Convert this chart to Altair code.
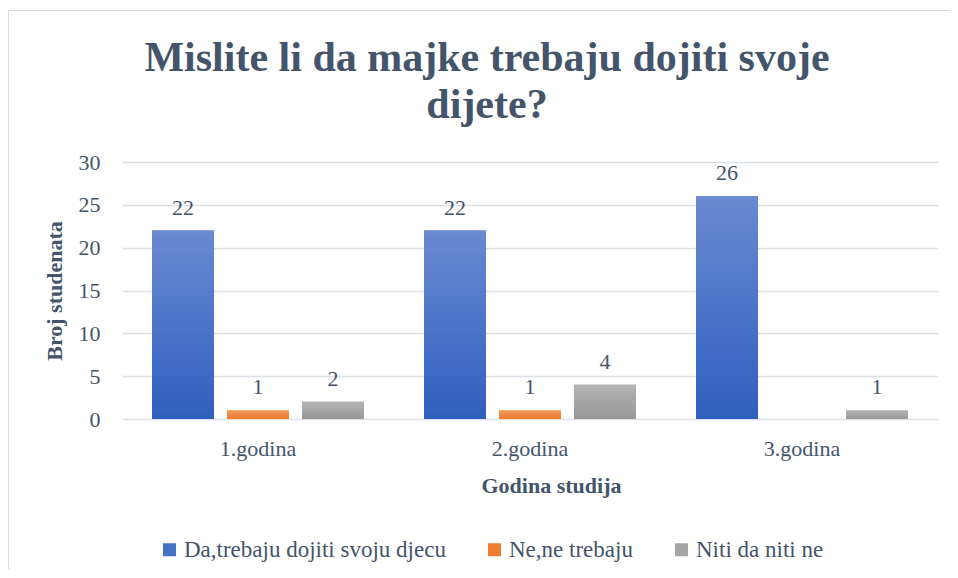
import altair as alt
import pandas as pd

years = ["1.godina", "2.godina", "3.godina"]
series = ["Da,trebaju dojiti svoju djecu", "Ne,ne trebaju", "Niti da niti ne"]
da_vals = [22, 22, 26]
ne_vals = [1, 1, 0]
niti_vals = [2, 4, 1]
y_ticks = [0, 5, 10, 15, 20, 25, 30]
title_lines = ["Mislite li da majke trebaju dojiti svoje", "dijete?"]
x_title = "Godina studija"
y_title = "Broj studenata"

legend_colors = ["#4472C4", "#ED7D31", "#A5A5A5"]
grad_top = ["#6A8AD2", "#F4985A", "#B4B4B4"]
grad_bottom = ["#2F5FBE", "#ED7A2C", "#979797"]

TXT = "#44546A"
FONT = "Liberation Serif"
GRID = "#DDE1E7"

rows = []
for i, yr in enumerate(years):
    for s, vals in zip(series, [da_vals, ne_vals, niti_vals]):
        rows.append({"godina": yr, "odgovor": s, "broj": vals[i]})
df = pd.DataFrame(rows)

x_enc = alt.X(
    "godina:N",
    sort=years,
    scale=alt.Scale(domain=years, paddingInner=0, paddingOuter=0),
    axis=alt.Axis(
        title=x_title, labelAngle=0, ticks=False, tickSize=0, domain=False,
        labelFont=FONT, labelFontSize=22, labelColor=TXT,
        labelBaseline="alphabetic", labelPadding=36,
        titleFont=FONT, titleFontSize=22, titleFontWeight="bold", titleColor=TXT,
        titleX=429, titleY=73, titleBaseline="alphabetic", titleAlign="center",
    ),
)
xo_enc = alt.XOffset(
    "odgovor:N",
    scale=alt.Scale(domain=series, paddingInner=0.173, paddingOuter=0.4),
)
y_enc = alt.Y(
    "broj:Q",
    scale=alt.Scale(domain=[0, 30], nice=False),
    axis=alt.Axis(
        title=y_title, values=y_ticks, ticks=False, tickSize=0, domain=False,
        grid=True, gridColor=GRID, gridWidth=1.5,
        labelFont=FONT, labelFontSize=22, labelColor=TXT, labelPadding=22,
        titleFont=FONT, titleFontSize=22, titleFontWeight="bold", titleColor=TXT,
        titleAngle=-90, titleX=-61, titleY=128.5, titleBaseline="alphabetic",
        titleAlign="center",
    ),
)

base = alt.Chart(df).encode(x=x_enc, xOffset=xo_enc, y=y_enc)

bars = base.mark_bar().encode(
    color=alt.Color(
        "odgovor:N",
        scale=alt.Scale(domain=series, range=legend_colors),
        legend=alt.Legend(
            title=None, orient="none", direction="horizontal",
            legendX=36, legendY=376, padding=0,
            symbolType="square", symbolSize=169, symbolStrokeWidth=0,
            labelFont=FONT, labelFontSize=23, labelColor=TXT,
            labelOffset=3, columnPadding=37, labelLimit=400,
        ),
    )
)

grad_layers = []
for s, t, b in zip(series, grad_top, grad_bottom):
    g = alt.LinearGradient(
        gradient="linear",
        stops=[alt.GradientStop(offset=0, color=t), alt.GradientStop(offset=1, color=b)],
        x1=0, x2=0, y1=0, y2=1,
    )
    grad_layers.append(
        base.transform_filter(alt.datum.odgovor == s).mark_bar(fill=g)
    )

labels = base.transform_filter(alt.datum.broj > 0).mark_text(
    font=FONT, fontSize=22, color=TXT, baseline="alphabetic", dy=-16
).encode(text="broj:Q")

frame = alt.Chart(pd.DataFrame({"f": [0]})).mark_rect(
    fillOpacity=0, stroke="#D9D9D9", strokeWidth=1
).encode(
    x=alt.value(-113.5), x2=alt.value(900), y=alt.value(-151.5), y2=alt.value(600)
)

chart = alt.layer(frame, bars, *grad_layers, labels).properties(
    width=816,
    height=257,
    title=alt.TitleParams(
        text=title_lines, font=FONT, fontSize=42, fontWeight="bold", color=TXT,
        anchor="middle", dx=-43, offset=-117, lineHeight=47,
    ),
    autosize=alt.AutoSizeParams(type="none"),
    padding={"left": 114, "top": 154, "right": 12, "bottom": 150},
).configure_view(stroke=None)

chart.save("out.html", embed_options={"renderer": "svg", "actions": False})
